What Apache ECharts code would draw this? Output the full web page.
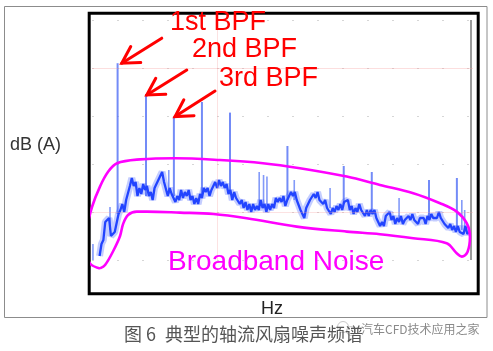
<!DOCTYPE html>
<html><head><meta charset="utf-8">
<script src="https://cdn.jsdelivr.net/npm/echarts@6/dist/echarts.min.js"></script>
<style>html,body{margin:0;padding:0;background:#fff;}#c{width:493px;height:351px;}</style>
</head><body><div id="c"></div>
<script>
// ---- data (frequency in Hz, level in dB, arbitrary reference) ----
const noiseStartHz = 40;
const noiseStepHz = 10;
const noiseDb = [
  2,8,10,19,20,21,12,11,14,15,
  23,25,28,24,30,29,37,41,37,39,
  32,36,33,38,35,37,32,34,30,36,
  35,40,39,44,39,38,32,36,33,34,
  29,32,30,35,31,34,32,35,30,32,
  28,31,28,33,31,36,34,36,32,35,
  34,39,36,40,37,39,36,38,33,35,
  30,34,31,32,28,30,26,29,25,28,
  24,28,25,27,25,30,26,28,24,28,
  25,28,26,31,29,31,29,32,27,30,
  29,34,32,34,30,30,25,25,21,26,
  25,30,29,33,31,34,30,31,28,30,
  26,27,23,26,24,27,25,28,25,29,
  28,30,25,27,23,26,24,28,25,26,
  22,25,22,25,23,25,21,22,17,19,
  17,22,22,24,20,22,18,21,19,22,
  18,20,19,22,20,23,20,21,18,21,
  20,21,18,22,20,23,21,22,21,24,
  21,22,18,19,16,18,15,17,14,17,
  14,15,13,17,13,14
];
// tonal peaks: [freq Hz, peak dB, foot dB]
const bpfPeaks = [[135,98.4,23],[285,83,32],[432,71.7,32],[580,79,32],[728,73.7,34],[1031,57,30],[1328,47,28],[1476,44,24],[1778,40,21],[1925,41,16]];
const minorPeaks = [[5,8,0],[95,26.5,15],[405,45,33],[882,44,26],[905,42.5,26],[923,41.7,26],[1067,40,30],[1256,36,26],[1620,31,20],[1951,30,15],[1966,25,15]];
const cursorHz = 2000;
// annotation arrows: [tail Hz, tail dB, tip Hz, tip dB]
const arrowData = [[368,110.9,157,98.4],[500,95,289,82.5],[649,84.5,438,71.7]];
const arrowLabels = ['1st BPF','2nd BPF','3rd BPF'];
// outline of the broadband-noise region [Hz, dB]
const loopPts = [[42,-4.2],[-10.6,-1.7],[-37,6.7],[-29,15],[0,26.5],[42,36.7],[84,44],[132,48.4],[253,50.3],[438,50.9],[675,50],[902,48.4],[1097,45.9],[1344,41.7],[1519,37.5],[1695,33.4],[1836,28.4],[1924,24.2],[1977,18.4],[1994,11.7],[1981,4],[1951,1.7],[1924,3.4],[1871,8.4],[1695,10.9],[1519,12.9],[1344,14.2],[1080,16.7],[816,20.9],[640,23],[464,23.7],[289,24.2],[236,24.2],[190,22.5],[164,18],[148,12],[112,4.5],[69,-2.5],[42,-4.2]];
const yLabel = 'dB (A)';
const xLabel = 'Hz';
const regionLabel = 'Broadband Noise';
const figNo = '图 6';
const caption = '典型的轴流风扇噪声频谱';
const watermark = '汽车CFD技术应用之家';

const noiseSeries = noiseDb.map((v, i) => [noiseStartHz + i * noiseStepHz, v]);

const chart = echarts.init(document.getElementById('c'), null, {renderer: 'canvas'});

function spikeRender(color, width) {
  return function (params, api) {
    const a = api.coord([api.value(0), api.value(2)]);
    const b = api.coord([api.value(0), api.value(1)]);
    return {type: 'line', shape: {x1: a[0], y1: a[1], x2: b[0], y2: b[1]},
      style: {stroke: color, lineWidth: width}};
  };
}

const font = 'Liberation Sans, Arial, sans-serif';
const txt = (text, x, y, size, fill, fam) => ({
  type: 'text', z: 100,
  style: {text, x, y, font: size + 'px ' + (fam || font), fill,
    align: 'left', verticalAlign: 'middle', textAlign: 'left', textVerticalAlign: 'middle'}
});

const option = {
  animation: false,
  backgroundColor: '#fff',
  grid: {left: 92, right: 20, top: 20, bottom: 91},
  xAxis: {type: 'value', min: 0, max: 2010, show: true,
    axisLine: {show: false}, axisTick: {show: false}, axisLabel: {show: false},
    splitLine: {show: false}},
  yAxis: {type: 'value', min: 0, max: 120, interval: 24,
    axisLine: {show: false}, axisTick: {show: false}, axisLabel: {show: false},
    splitLine: {show: true, lineStyle: {color: '#d6d6d6', width: 1, type: [2, 23]}}},
  series: [
    {type: 'custom', name: 'minor', data: minorPeaks, z: 2,
      encode: {x: 0, y: [1, 2]}, renderItem: spikeRender('rgba(90,120,245,0.75)', 1.6)},
    {type: 'custom', name: 'bpf', data: bpfPeaks, z: 2,
      encode: {x: 0, y: [1, 2]}, renderItem: spikeRender('rgba(80,110,245,0.8)', 2)},
    {type: 'line', name: 'halo', data: noiseSeries, symbol: 'none', z: 3,
      lineStyle: {color: 'rgba(60,90,255,0.3)', width: 7},
      markLine: {silent: true, symbol: 'none', label: {show: false},
        data: [
          {xAxis: cursorHz, lineStyle: {color: '#9b9b9b', width: 2, type: 'solid'}},
          {yAxis: 96, lineStyle: {color: 'rgba(245,160,160,0.35)', width: 1, type: 'solid'}},
          {yAxis: 24, lineStyle: {color: 'rgba(245,160,160,0.3)', width: 1, type: 'solid'}},
          {xAxis: 659, lineStyle: {color: 'rgba(245,160,160,0.3)', width: 1, type: 'solid'}}
        ]}},
    {type: 'line', name: 'noise', data: noiseSeries, symbol: 'none', z: 4,
      lineStyle: {color: '#2244ff', width: 2.3}},
    {type: 'line', name: 'loop', data: loopPts, symbol: 'none', smooth: 0.35, clip: false, z: 5,
      lineStyle: {color: '#ff00ff', width: 2.6}},
    {type: 'custom', name: 'arrows', data: arrowData, z: 6, clip: false,
      encode: {x: [0, 2], y: [1, 3]},
      renderItem: function (params, api) {
        const t = api.coord([api.value(0), api.value(1)]);
        const h = api.coord([api.value(2), api.value(3)]);
        const ang = Math.atan2(t[1] - h[1], t[0] - h[0]);
        const L = 19, a = 0.52;
        const w1 = [h[0] + L * Math.cos(ang + a), h[1] + L * Math.sin(ang + a)];
        const w2 = [h[0] + L * Math.cos(ang - a), h[1] + L * Math.sin(ang - a)];
        return {type: 'group', children: [
          {type: 'line', shape: {x1: t[0], y1: t[1], x2: h[0], y2: h[1]},
            style: {stroke: '#ff0000', lineWidth: 3, lineCap: 'round'}},
          {type: 'polyline', shape: {points: [w1, h, w2]},
            style: {stroke: '#ff0000', lineWidth: 3, fill: null, lineJoin: 'miter', lineCap: 'round'}}
        ]};
      }}
  ],
  graphic: [
    {type: 'rect', z: -10, shape: {x: 4.5, y: 6.5, width: 482.5, height: 311},
      style: {fill: null, stroke: '#8c8c8c', lineWidth: 1}},
    {type: 'rect', z: -5, shape: {x: 89.2, y: 13.3, width: 389, height: 280.5},
      style: {fill: null, stroke: '#000', lineWidth: 3}},
    txt(arrowLabels[0], 170, 22.5, 27, '#ff0000'),
    txt(arrowLabels[1], 192, 50, 27, '#ff0000'),
    txt(arrowLabels[2], 219, 79, 27, '#ff0000'),
    txt(regionLabel, 168, 262, 28, '#ff00ff'),
    txt(yLabel, 10, 145, 18, '#333'),
    txt(xLabel, 261, 309, 18, '#222'),
    txt(figNo, 124, 334, 18, '#555', 'Noto Sans CJK SC, sans-serif'),
    txt(caption, 165, 334, 18, '#555', 'Noto Sans CJK SC, sans-serif'),
    {type: 'circle', z: 99, shape: {cx: 343, cy: 327, r: 5.5}, style: {fill: null, stroke: '#c8c8c8', lineWidth: 1}},
    {type: 'circle', z: 99, shape: {cx: 351, cy: 331, r: 4.5}, style: {fill: null, stroke: '#c8c8c8', lineWidth: 1}},
    txt(watermark, 361, 329, 12, '#8a8a8a', 'Noto Sans CJK SC, sans-serif')
  ]
};
chart.setOption(option);
</script>
</body></html>
